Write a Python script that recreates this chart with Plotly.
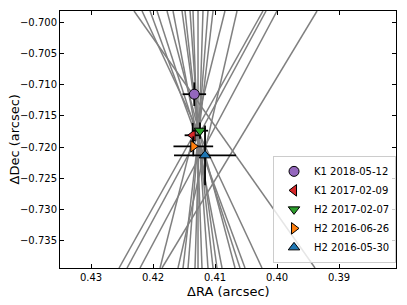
import plotly.graph_objects as go

# Gray lines: x position at the top (y=-0.69811) and bottom (y=-0.73947) of the frame
line_y = [-0.69811, -0.73947]
line_x_top = [0.42306, 0.42177, 0.42048, 0.41935, 0.41774, 0.41677, 0.41532, 0.41484,
              0.41403, 0.41355, 0.41274, 0.41194, 0.41113, 0.41032, 0.40839, 0.40645,
              0.40226, 0.40177, 0.40000, 0.39355]
line_x_bot = [0.39387, 0.40242, 0.40516, 0.40597, 0.40677, 0.40887, 0.40968, 0.41032,
              0.41113, 0.41210, 0.41274, 0.41323, 0.41435, 0.41516, 0.41887, 0.41597,
              0.42548, 0.42419, 0.42210, 0.41855]

# Measurements
labels = ["K1 2018-05-12", "K1 2017-02-09", "H2 2017-02-07", "H2 2016-06-26", "H2 2016-05-30"]
ra = [0.41334, 0.41360, 0.41242, 0.41350, 0.41161]
dec = [-0.71150, -0.71811, -0.71737, -0.71989, -0.72134]
ra_err = [0.0019, 0.0013, 0.0013, 0.0032, 0.0050]
dec_err = [0.0019, 0.0020, 0.0013, 0.0016, 0.0048]
colors = ["#9467bd", "#d62728", "#2ca02c", "#ff7f0e", "#1f77b4"]
symbols = ["circle", "triangle-left", "triangle-down", "triangle-right", "triangle-up"]

x_ticks = [0.43, 0.42, 0.41, 0.40, 0.39]
y_ticks = [-0.700, -0.705, -0.710, -0.715, -0.720, -0.725, -0.730, -0.735]

fig = go.Figure()
for xt, xb in zip(line_x_top, line_x_bot):
    fig.add_trace(go.Scatter(x=[xt, xb], y=line_y, mode="lines",
                             line=dict(color="#808080", width=1.5),
                             showlegend=False, hoverinfo="skip"))

for i in range(len(labels)):
    fig.add_trace(go.Scatter(
        x=[ra[i]], y=[dec[i]], mode="markers", name=labels[i],
        marker=dict(color=colors[i], symbol=symbols[i], size=10,
                    line=dict(color="black", width=1)),
        error_x=dict(type="constant", value=ra_err[i], color="black", thickness=1.8, width=0),
        error_y=dict(type="constant", value=dec_err[i], color="black", thickness=1.8, width=0),
    ))

axis_common = dict(showline=True, linecolor="black", linewidth=1, mirror="ticks",
                   ticks="inside", ticklen=4, tickwidth=1, tickcolor="black",
                   showgrid=False, zeroline=False, automargin=False,
                   tickfont=dict(family="DejaVu Sans", size=10, color="black"))

fig.update_layout(
    width=391, height=295,
    margin=dict(l=52, r=3, t=3, b=35),
    paper_bgcolor="white", plot_bgcolor="white",
    font=dict(family="DejaVu Sans", color="black"),
    xaxis=dict(range=[0.43500, 0.38081], tickvals=x_ticks,
               ticktext=[f"{v:.2f}" for v in x_ticks], **axis_common),
    yaxis=dict(range=[-0.73947, -0.69811], tickvals=y_ticks,
               ticktext=[f"−{abs(v):.3f}" for v in y_ticks], **axis_common),
    legend=dict(x=0.634, y=0.02, xanchor="left", yanchor="bottom",
                bgcolor="rgba(255,255,255,0.8)", bordercolor="#cccccc", borderwidth=1,
                font=dict(family="DejaVu Sans", size=10), tracegroupgap=0,
                itemwidth=30),
    annotations=[
        dict(text="ΔRA (arcsec)", xref="paper", yref="paper", x=0.5, y=-0.09,
             xanchor="center", yanchor="middle", showarrow=False,
             font=dict(family="DejaVu Sans", size=13, color="black")),
        dict(text="ΔDec (arcsec)", xref="paper", yref="paper", x=-0.134, y=0.5,
             xanchor="center", yanchor="middle", showarrow=False, textangle=-90,
             font=dict(family="DejaVu Sans", size=13, color="black")),
    ],
)

fig.write_html("out.html")
